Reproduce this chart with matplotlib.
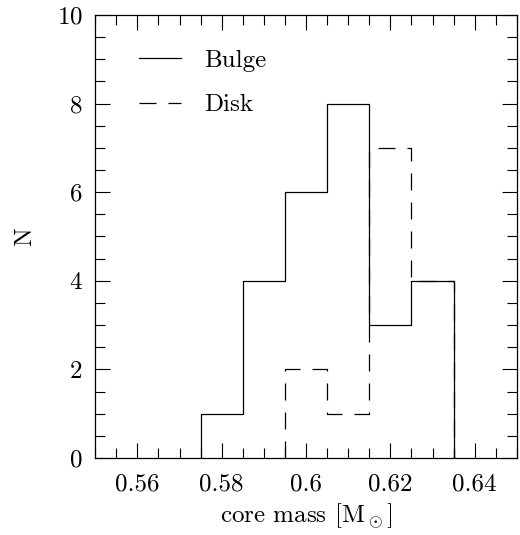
import numpy as np
import matplotlib
matplotlib.use('Agg')
import matplotlib.pyplot as plt
from matplotlib.ticker import MultipleLocator

# histogram bins (core mass) and counts
bin_edges = [0.575, 0.585, 0.595, 0.605, 0.615, 0.625, 0.635]
bulge_counts = [1, 4, 6, 8, 3, 4]
disk_counts = [0, 0, 2, 1, 7, 4]

plt.rcParams['font.family'] = ['cmr10', 'DejaVu Serif']
plt.rcParams['mathtext.fontset'] = 'cm'
plt.rcParams['axes.formatter.use_mathtext'] = True

fig = plt.figure(figsize=(5.2, 5.35), dpi=100)
ax = fig.add_axes([0.183, 0.144, 0.811, 0.828])

def step_xy(edges, counts):
    xs, ys = [edges[0]], [0]
    for i, c in enumerate(counts):
        xs += [edges[i], edges[i + 1]]
        ys += [c, c]
    xs.append(edges[-1])
    ys.append(0)
    return xs, ys

# disk starts at first non-zero bin
first = next(i for i, c in enumerate(disk_counts) if c > 0)
bx, by = step_xy(bin_edges, bulge_counts)
dx, dy = step_xy(bin_edges[first:], disk_counts[first:])

ax.plot(bx, by, color='black', lw=0.9, label='Bulge')
ax.plot(dx, dy, color='black', lw=0.9, ls=(0, (13.6, 9.6)), label='Disk')

ax.set_xlim(0.55, 0.65)
ax.set_ylim(0, 10)
ax.xaxis.set_major_locator(MultipleLocator(0.02))
ax.xaxis.set_minor_locator(MultipleLocator(0.005))
ax.yaxis.set_major_locator(MultipleLocator(2))
ax.yaxis.set_minor_locator(MultipleLocator(0.5))
ax.xaxis.set_major_formatter(plt.FuncFormatter(lambda v, p: ('%g' % round(v, 3))))

ax.tick_params(which='both', direction='in', top=True, right=True, labelsize=18, width=0.8)
ax.tick_params(which='major', length=11)
ax.tick_params(axis='x', which='major', pad=11)
ax.tick_params(axis='y', which='major', pad=9)
ax.tick_params(which='minor', length=7)
for s in ax.spines.values():
    s.set_linewidth(0.9)

ax.set_xlabel(r'core mass [M$_\odot$]', fontsize=18, labelpad=5)
ax.set_ylabel('N', fontsize=18, labelpad=15)

ax.legend(loc='upper left', frameon=False, fontsize=18, handlelength=1.7,
          handletextpad=0.9, labelspacing=0.88, borderaxespad=0.0,
          bbox_to_anchor=(0.08, 0.945))

fig.savefig('out.png', dpi=100)
